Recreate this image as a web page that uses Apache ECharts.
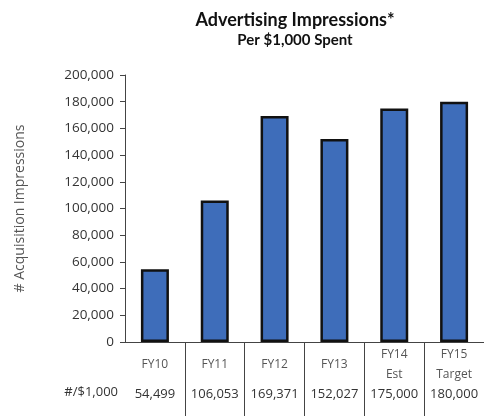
<!DOCTYPE html>
<html>
<head>
<meta charset="utf-8">
<script src="https://cdn.jsdelivr.net/npm/echarts@6/dist/echarts.min.js"></script>
<style>
html,body{margin:0;padding:0;background:#fff;}
#c{width:484px;height:416px;}
</style>
</head>
<body>
<div id="c"></div>
<script>
const categories = ['FY10', 'FY11', 'FY12', 'FY13', 'FY14\nEst', 'FY15\nTarget'];
const values = [54499, 106053, 169371, 152027, 175000, 180000];
const yTicks = { min: 0, max: 200000, interval: 20000 };
const rowLabel = '#/$1,000';
const titleText = 'Advertising Impressions*';
const subtitleText = 'Per $1,000 Spent';
const yName = '# Acquisition Impressions';

const fmt = v => v.toLocaleString('en-US');
const tfont = 'Lato, "Open Sans", sans-serif';
const font = '"Open Sans", sans-serif';

const chart = echarts.init(document.getElementById('c'), null, { renderer: 'canvas' });
chart.setOption({
  animation: false,
  backgroundColor: '#fff',
  title: [{
    text: titleText,
    subtext: subtitleText,
    left: 290, top: 6, textAlign: 'center',
    textStyle: { fontFamily: tfont, fontSize: 18, fontWeight: 'bold', color: '#111' },
    subtextStyle: { fontFamily: tfont, fontSize: 15, fontWeight: 'bold', color: '#111' },
    itemGap: 4
  }],
  graphic: [{
    type: 'text', right: 366, top: 386,
    style: { text: rowLabel, font: '13px ' + font, fill: '#333', textAlign: 'right' }
  }],
  grid: { left: 125, top: 75, width: 360, height: 267 },
  xAxis: [{
    type: 'category', data: categories, position: 'bottom',
    axisLine: { show: true, lineStyle: { color: '#444', width: 1 } },
    axisTick: { show: true, length: 74, lineStyle: { color: '#444' },
      interval: (i) => i !== 0 },
    axisLabel: { interval: 0, margin: 23, verticalAlign: 'middle', lineHeight: 20,
      fontFamily: font, fontSize: 12, color: '#555' }
  }, {
    type: 'category', data: categories, position: 'bottom',
    axisLine: { show: false }, axisTick: { show: false },
    axisLabel: { interval: 0, margin: 52, verticalAlign: 'middle',
      formatter: (v, i) => fmt(values[i]),
      fontFamily: font, fontSize: 13, color: '#333' }
  }],
  yAxis: {
    type: 'value', min: yTicks.min, max: yTicks.max, interval: yTicks.interval,
    name: yName, nameLocation: 'middle', nameGap: 98, nameRotate: 90,
    nameTextStyle: { fontFamily: font, fontSize: 14, color: '#555' },
    axisLine: { show: true, lineStyle: { color: '#444' } },
    axisTick: { show: true, length: 5, lineStyle: { color: '#444' } },
    splitLine: { show: false },
    axisLabel: { margin: 11, formatter: v => fmt(v), fontFamily: font, fontSize: 13.5, color: '#333' }
  },
  series: [{
    type: 'bar', data: values, barWidth: 28,
    itemStyle: { color: '#3e6dba', borderColor: '#111', borderWidth: 2.5 }
  }]
});
</script>
</body>
</html>
